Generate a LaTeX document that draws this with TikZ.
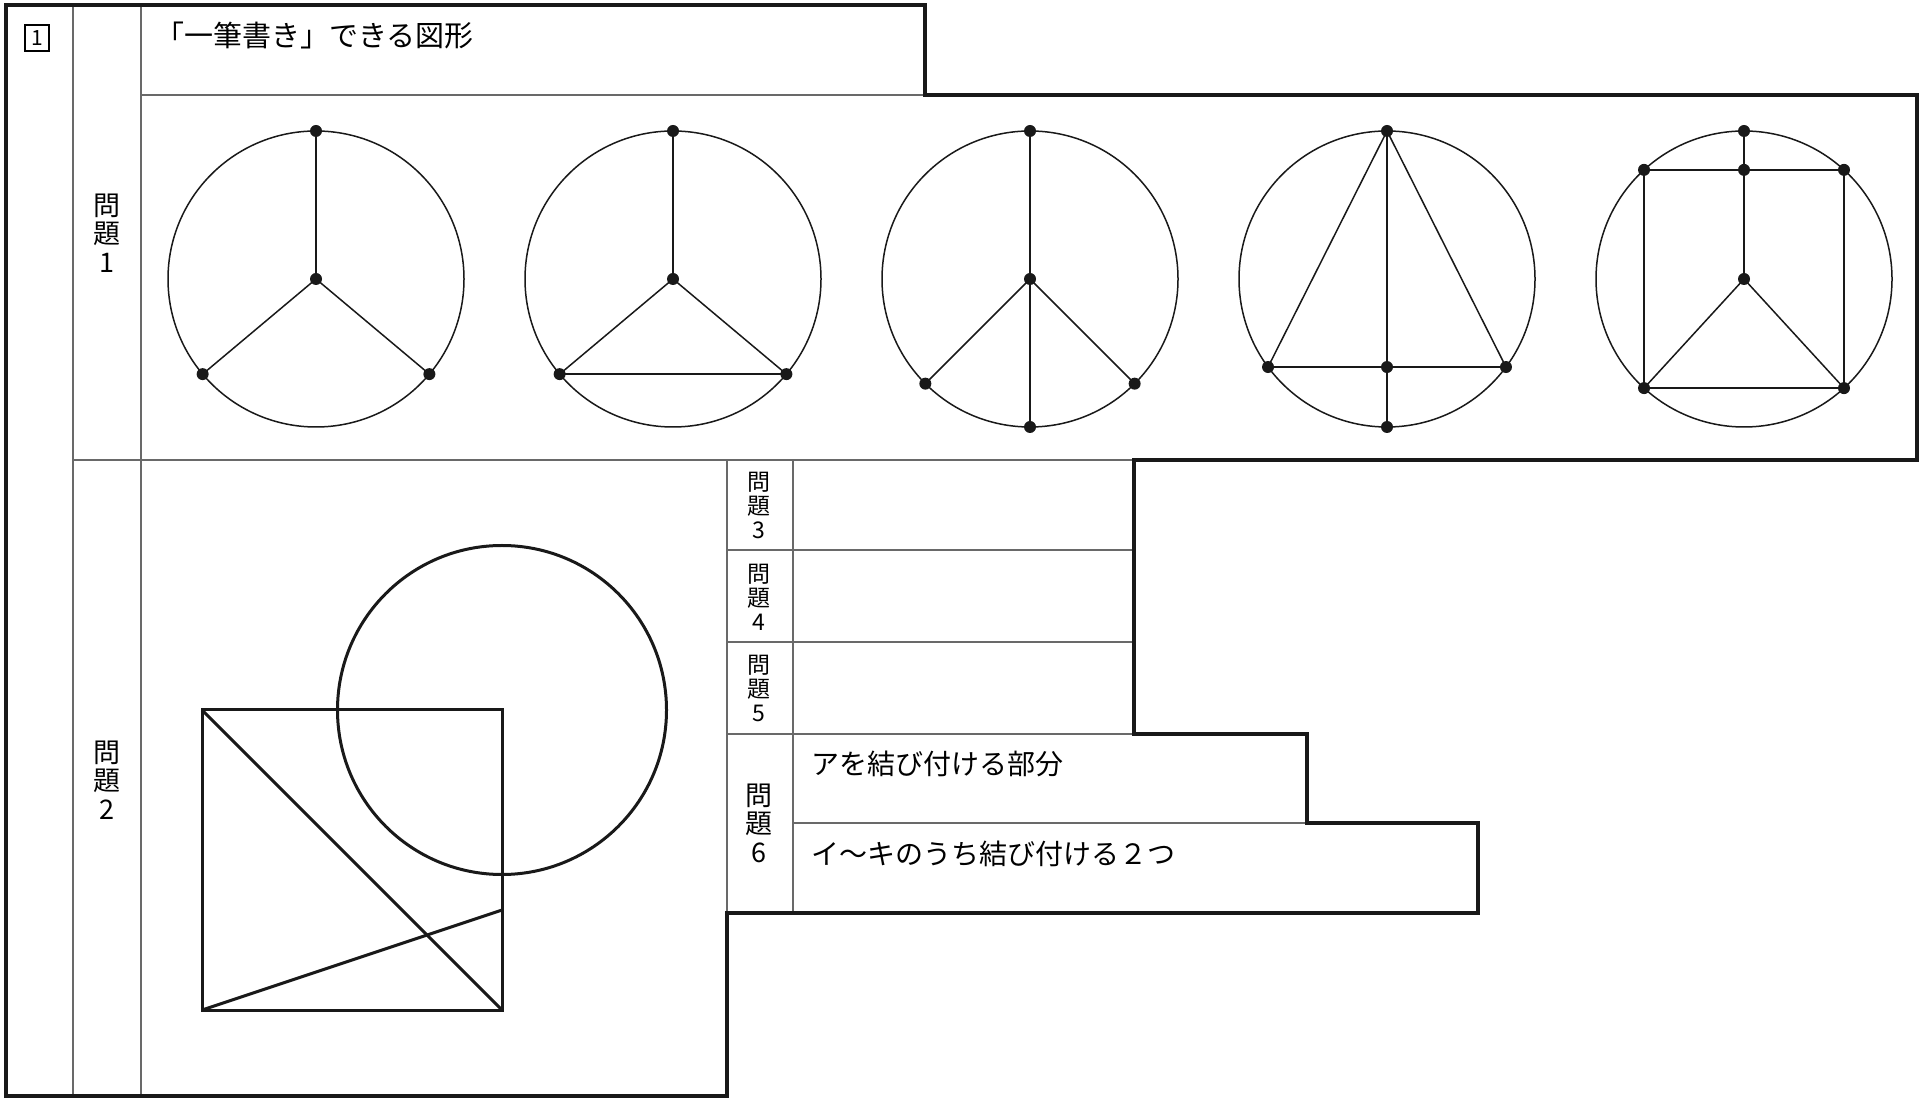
\documentclass[tikz,border=0pt]{standalone}
\usepackage{fontspec}
\setmainfont{Noto Sans CJK JP}
\usepackage{tikz}
\usetikzlibrary{calc}
\definecolor{ink}{RGB}{25,25,25}
\definecolor{rulegray}{RGB}{105,105,105}

\begin{document}
\begin{tikzpicture}[x=1pt,y=1pt,
    frame/.style={line width=3.2pt,ink,line join=miter},
    rule/.style={line width=1.3pt,rulegray},
    edge/.style={line width=1.5pt,ink},
    heavy/.style={line width=3pt,ink},
    qlabel/.style={font=\fontsize{27}{28.5}\selectfont,align=center,inner sep=0pt},
    qsmall/.style={font=\fontsize{23}{24}\selectfont,align=center,inner sep=0pt},
    cell/.style={font=\fontsize{28}{30}\selectfont,anchor=west,inner sep=0pt}]
  \useasboundingbox (0,0) rectangle (1929,1098);
  % rules of the answer sheet
  \draw[rule] (73,1093)--(73,2); \draw[rule] (141,1093)--(141,2);
  \draw[rule] (141,1003)--(925,1003); \draw[rule] (73,638)--(1134,638);
  \draw[rule] (727,638)--(727,185); \draw[rule] (793,638)--(793,185);
  \foreach \y in {548,456,364} \draw[rule] (727,\y)--(1134,\y);
  \draw[rule] (793,275)--(1307,275);
  \draw[frame] (6,1093)--(925,1093)--(925,1003)--(1917,1003)--(1917,638)--(1134,638)--(1134,364)
    --(1307,364)--(1307,275)--(1478,275)--(1478,185)--(727,185)--(727,2)--(6,2)--cycle;
  % labels
  \node[draw,line width=1.2pt,minimum width=24pt,minimum height=26pt,inner sep=0pt,
    font=\fontsize{21}{21}\selectfont] (no) at (37,1060) {1};
  \node[cell] (title) at (155,1063) {\fontsize{29}{30}\selectfont「一筆書き」できる図形};
  \node[qlabel] (q1) at (107,865) {問\\題\\1};
  \node[qlabel] (q2) at (107,318) {問\\題\\2};
  \node[qsmall] (q3) at (759,593) {問\\題\\3};
  \node[qsmall] (q4) at (759,501) {問\\題\\4};
  \node[qsmall] (q5) at (759,410) {問\\題\\5};
  \node[qlabel] (q6) at (759,275) {問\\題\\6};
  \node[cell] (p6a) at (811,334) {アを結び付ける部分};
  \node[cell] (p6b) at (811,244) {イ〜キのうち結び付ける２つ};
  % problem 1: five figures
  \begin{scope}[shift={(316,819)}]
    \coordinate (T) at (90:148); \coordinate (C) at (0,0); \coordinate (L) at (220:148); \coordinate (R) at (320:148);
    \draw[edge] (C) circle (148pt); \draw[edge] (T)--(C); \draw[edge] (C)--(L); \draw[edge] (C)--(R);
    \foreach \p in {T,C,L,R} \fill[ink] (\p) circle (6pt);
  \end{scope}
  \begin{scope}[shift={(673,819)}]
    \coordinate (T) at (90:148); \coordinate (C) at (0,0); \coordinate (L) at (220:148); \coordinate (R) at (320:148);
    \draw[edge] (C) circle (148pt); \draw[edge] (T)--(C); \draw[edge] (C)--(L); \draw[edge] (C)--(R); \draw[edge] (L)--(R);
    \foreach \p in {T,C,L,R} \fill[ink] (\p) circle (6pt);
  \end{scope}
  \begin{scope}[shift={(1030,819)}]
    \coordinate (T) at (90:148); \coordinate (C) at (0,0); \coordinate (B) at (270:148);
    \coordinate (L) at (225:148); \coordinate (R) at (315:148);
    \draw[edge] (C) circle (148pt); \draw[edge] (T)--(C); \draw[edge] (C)--(B); \draw[edge] (C)--(L); \draw[edge] (C)--(R);
    \foreach \p in {T,C,B,L,R} \fill[ink] (\p) circle (6pt);
  \end{scope}
  \begin{scope}[shift={(1387,819)}]
    \coordinate (T) at (90:148); \coordinate (B) at (270:148);
    \coordinate (L) at (216.5:148); \coordinate (R) at (323.5:148); \coordinate (M) at (T|-L);
    \draw[edge] (0,0) circle (148pt); \draw[edge] (T)--(L); \draw[edge] (T)--(R); \draw[edge] (T)--(B); \draw[edge] (L)--(R);
    \foreach \p in {T,B,L,M,R} \fill[ink] (\p) circle (6pt);
  \end{scope}
  \begin{scope}[shift={(1744,819)}]
    \coordinate (T) at (90:148); \coordinate (C) at (0,0);
    \coordinate (UL) at (132.5:148); \coordinate (UR) at (47.5:148); \coordinate (UM) at (T|-UL);
    \coordinate (LL) at (227.5:148); \coordinate (LR) at (312.5:148);
    \draw[edge] (C) circle (148pt); \draw[edge] (T)--(C); \draw[edge] (UL)--(UR);
    \draw[edge] (UL)--(LL); \draw[edge] (UR)--(LR); \draw[edge] (LL)--(LR);
    \draw[edge] (C)--(LL); \draw[edge] (C)--(LR);
    \foreach \p in {T,C,UL,UM,UR,LL,LR} \fill[ink] (\p) circle (6pt);
  \end{scope}
  % problem 2
  \coordinate (O) at (502,388);
  \coordinate (SA) at (202,388); \coordinate (SB) at (202,88); \coordinate (SC) at (502,88); \coordinate (SP) at (502,188);
  \draw[heavy] (O) circle (164.5pt);
  \draw[heavy] (SA)--(O)--(SC)--(SB)--cycle;
  \draw[heavy] (SA)--(SC); \draw[heavy] (SB)--(SP);
\end{tikzpicture}
\end{document}
